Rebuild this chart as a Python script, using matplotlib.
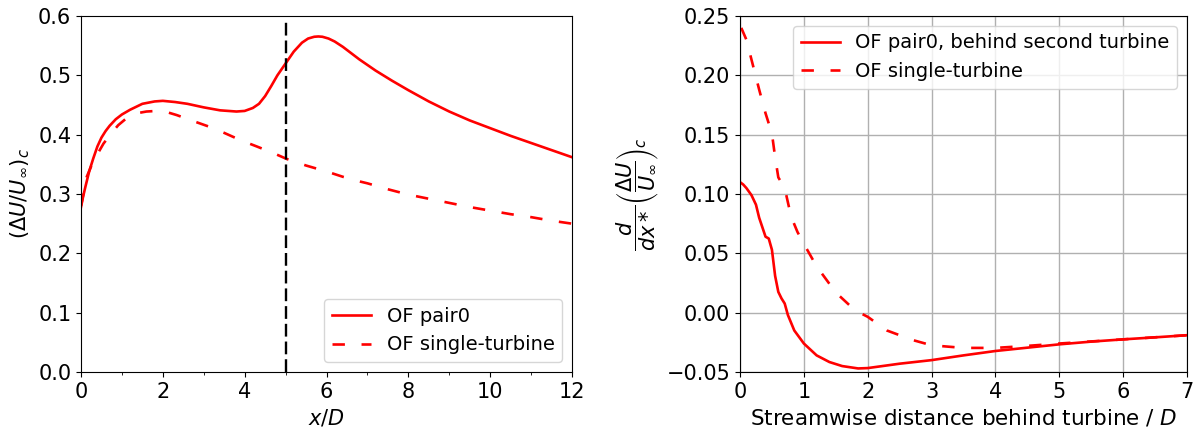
import matplotlib
matplotlib.use("Agg")
import matplotlib.pyplot as plt

# ---- Left panel data ----
x_pair0 = [0.0, 0.05, 0.1, 0.2, 0.3, 0.4, 0.5, 0.6, 0.7, 0.85, 1.0, 1.2, 1.5, 1.8, 2.0,
           2.3, 2.6, 3.0, 3.4, 3.8, 4.0, 4.2, 4.35, 4.5, 4.65, 4.8, 5.0, 5.2, 5.4, 5.55,
           5.7, 5.8, 5.9, 6.05, 6.2, 6.4, 6.8, 7.2, 7.6, 8.0, 8.5, 9.0, 9.5, 10.0, 10.5,
           11.0, 11.5, 12.0]
y_pair0 = [0.278, 0.295, 0.310, 0.338, 0.360, 0.380, 0.395, 0.406, 0.415, 0.426, 0.434,
           0.442, 0.452, 0.456, 0.457, 0.455, 0.452, 0.446, 0.441, 0.439, 0.440, 0.445,
           0.452, 0.465, 0.482, 0.500, 0.520, 0.540, 0.555, 0.562, 0.565, 0.5655, 0.565,
           0.562, 0.557, 0.548, 0.527, 0.508, 0.491, 0.475, 0.456, 0.439, 0.424, 0.411,
           0.398, 0.386, 0.374, 0.362]

x_single = [0.0, 0.14, 0.3, 0.55, 0.75, 0.91, 1.1, 1.36, 1.6, 1.85, 2.1, 2.34, 2.7, 3.15,
            3.5, 3.89, 4.3, 4.7, 5.03, 5.5, 6.0, 6.4, 6.82, 7.0, 7.5, 8.0, 8.5, 9.0, 9.5,
            10.0, 10.5, 11.0, 11.5, 12.0]
y_single = [0.280, 0.329, 0.355, 0.385, 0.403, 0.416, 0.427, 0.436, 0.439, 0.440, 0.438,
            0.433, 0.424, 0.413, 0.403, 0.391, 0.380, 0.369, 0.359, 0.348, 0.338, 0.329,
            0.321, 0.318, 0.308, 0.299, 0.292, 0.285, 0.278, 0.272, 0.266, 0.261, 0.255,
            0.250]

x_turbine = 5.0

# ---- Right panel data ----
x_deriv_pair0 = [0.0, 0.05, 0.1, 0.18, 0.25, 0.3, 0.35, 0.4, 0.45, 0.5, 0.55, 0.6, 0.65,
                 0.7, 0.75, 0.85, 1.0, 1.2, 1.4, 1.6, 1.85, 2.0, 2.5, 3.0, 3.5, 4.0, 4.5,
                 5.0, 5.5, 6.0, 6.5, 7.0]
y_deriv_pair0 = [0.110, 0.108, 0.105, 0.099, 0.091, 0.080, 0.072, 0.064, 0.0625, 0.053,
                 0.031, 0.0175, 0.012, 0.0077, -0.002, -0.015, -0.026, -0.036, -0.0416,
                 -0.045, -0.047, -0.0467, -0.043, -0.040, -0.036, -0.0323, -0.0295,
                 -0.0267, -0.0244, -0.0225, -0.0208, -0.019]

x_deriv_single = [0.02, 0.1, 0.2, 0.3, 0.4, 0.5, 0.55, 0.6, 0.7, 0.8, 0.9, 1.0, 1.2, 1.5,
                  1.8, 2.0, 2.3, 2.7, 3.0, 3.5, 4.0, 4.5, 5.0, 6.0, 7.0]
y_deriv_single = [0.240, 0.230, 0.209, 0.188, 0.168, 0.151, 0.131, 0.114, 0.105, 0.081,
                  0.068, 0.058, 0.039, 0.017, 0.002, -0.0035, -0.015, -0.023, -0.0275,
                  -0.0297, -0.0297, -0.028, -0.026, -0.0225, -0.019]

plt.rcParams['font.size'] = 15

fig = plt.figure(figsize=(11.96, 4.28), dpi=100)
W, H = 1196, 428
ax1 = fig.add_axes([81 / W, (H - 372) / H, 491 / W, 356 / H])
ax2 = fig.add_axes([740 / W, (H - 372) / H, 447 / W, 356 / H])

LW = 1.9
red_dash = (4.7, 6.3)

ax1.plot(x_pair0, y_pair0, color='red', lw=LW, label='OF pair0')
ax1.plot(x_single, y_single, color='red', lw=LW, linestyle=(0, red_dash),
         label='OF single-turbine')
ax1.axvline(x_turbine, ymin=0, ymax=0.987, color='black', lw=1.7, linestyle=(0, (5.4, 2.1)))
ax1.set_xlim(0, 12)
ax1.set_ylim(0, 0.6)
ax1.set_xticks([0, 2, 4, 6, 8, 10, 12])
ax1.set_xticks([1, 3, 5, 7, 9, 11], minor=True)
ax1.set_xlabel(r'$x/D$')
ax1.set_ylabel(r'$\left(\Delta U/U_\infty\right)_c$')
ax1.legend(loc='lower right', fontsize=14)

ax2.plot(x_deriv_pair0, y_deriv_pair0, color='red', lw=LW,
         label='OF pair0, behind second turbine')
ax2.plot(x_deriv_single, y_deriv_single, color='red', lw=LW, linestyle=(0, red_dash),
         label='OF single-turbine')
ax2.set_xlim(0, 7)
ax2.set_ylim(-0.05, 0.25)
ax2.set_xticks(range(0, 8))
ax2.set_yticks([-0.05, 0.0, 0.05, 0.10, 0.15, 0.20, 0.25])
ax2.grid(True, color='#b0b0b0', lw=1)
ax2.set_axisbelow(True)
ax2.set_xlabel('Streamwise distance behind turbine / $D$', fontsize=15.5)
ax2.set_ylabel(r'$\dfrac{d}{dx*}\left(\dfrac{\Delta U}{U_\infty}\right)_c$')
ax2.legend(loc='upper right', fontsize=14)

fig.savefig('out.png', dpi=100)
